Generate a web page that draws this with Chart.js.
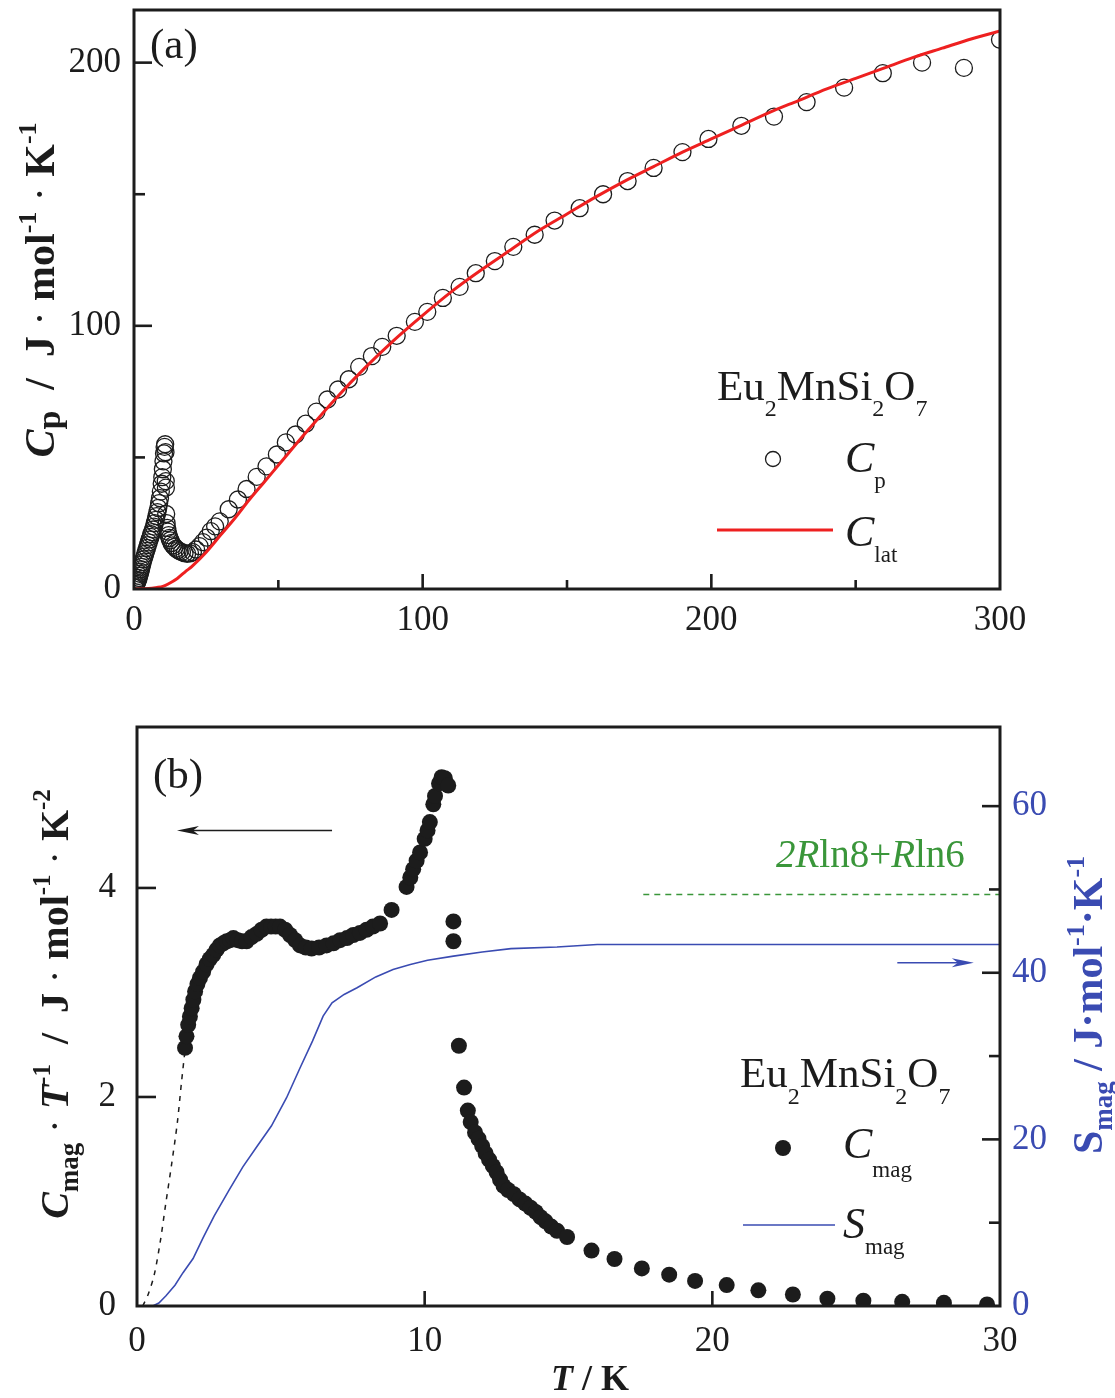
<!DOCTYPE html>
<html>
<head>
<meta charset="utf-8">
<script src="https://cdn.jsdelivr.net/npm/chart.js@4.4.1/dist/chart.umd.min.js"></script>
<style>
html, body { margin: 0; padding: 0; background: #fff; }
#wrap { position: relative; width: 1115px; height: 1398px; }
canvas { position: absolute; left: 0; }
</style>
</head>
<body>
<div id="wrap">
  <canvas id="chartA" width="1115" height="660" style="top:0px"></canvas>
  <canvas id="chartB" width="1115" height="738" style="top:660px"></canvas>
</div>
<script>
const SERIF = '"Liberation Serif", "Times New Roman", serif';
const INK = '#1c1c1c';
const RED = '#ee2020';
const BLUE = '#3a4bb2';
const GREEN = '#3a963a';

// ---- panel (a): Cp and lattice fit vs T ----
const cpT = [0.2, 0.4, 0.6, 0.8, 1.0, 1.2, 1.4, 1.6, 1.8, 2.0, 2.2, 2.4, 2.6, 2.8, 3.0, 3.3, 3.6, 3.9, 4.2, 4.5,
  4.8, 5.1, 5.4, 5.7, 6.0, 6.3, 6.6, 6.9, 7.2, 7.5, 7.8, 8.1, 8.4, 8.7, 9.0, 9.3, 9.6, 9.8, 10.0, 10.2,
  10.4, 10.6, 10.8, 10.9, 11.0, 11.05, 11.15, 11.3, 11.5, 11.7, 12.0, 12.3, 12.6, 13.0, 13.5, 14.0, 14.6, 15.2, 15.8, 16.6,
  17.5, 18.4, 19.4, 20.4, 21.5, 22.7, 23.9, 25.2, 26.6, 28.1, 29.7, 32.8, 36, 39, 42.5, 45.9, 49.5, 52.6, 56, 59.5,
  63.2, 67, 70.7, 74.4, 78, 82.4, 86, 91, 97.3, 101.6, 107, 112.8, 118.4, 125, 131.4, 138.8, 145.7, 154.4, 162.5, 171,
  180, 190, 199, 210.4, 221.7, 233, 246, 259.4, 273, 287.5, 300];
const cpVal = [0.5, 1, 1.5, 2, 2.5, 3, 3.5, 4.2, 5, 5.8, 6.6, 7.5, 8.4, 9.3, 10.2, 11.3, 12.3, 13.4, 14.5, 15.6,
  16.7, 17.7, 18.8, 19.8, 20.8, 21.6, 22.6, 23.7, 25, 26.3, 27.7, 29.2, 30.8, 32.6, 34.5, 37, 40, 42.5, 45.5, 48.5,
  51.5, 54, 55, 52, 41, 38.5, 28.5, 25, 23.2, 21.8, 20.5, 19.4, 18.5, 17.5, 16.6, 16, 15.3, 14.8, 14.4, 14,
  13.6, 13.4, 13.5, 14, 15, 16.3, 17.8, 19.5, 22, 23.8, 25.7, 30.3, 34, 38, 42.6, 46.6, 51.1, 55.7, 58.7, 62.8,
  67.4, 72, 75.8, 79.7, 84.4, 88.5, 92, 96.2, 101.5, 105.3, 110.6, 114.8, 120, 124.6, 130, 134.6, 140, 144.7, 150, 155,
  160, 166, 171, 176, 179.5, 185, 190.5, 196, 200, 198, 208.7];
const latT = [0, 5, 8, 10, 12, 15, 18, 20, 25, 30, 35, 40, 45, 50, 60, 70, 80, 90, 100, 110,
  120, 130, 140, 150, 160, 170, 180, 190, 200, 210, 220, 230, 240, 250, 260, 270, 280, 290, 300];
const latVal = [0, 0.2, 0.6, 1, 2, 4, 6.8, 8.5, 14, 20.5, 27, 34, 40.5, 47, 60, 72.5, 84, 94.5, 104, 113,
  121, 128.5, 136, 142.5, 149, 155, 160.5, 166, 171, 176, 181, 185.5, 190, 194, 198, 202, 205.5, 209, 212];
const aTicksX = [0, 100, 200, 300];
const aMinorX = [50, 150, 250];
const aTicksY = [0, 100, 200];
const aMinorY = [50, 150];

// ---- panel (b): Cmag/T (left) and Smag (right) vs T ----
const cmagT = [1.67, 1.72, 1.78, 1.84, 1.9, 1.96, 2.02, 2.1, 2.19, 2.3, 2.42, 2.53, 2.65, 2.77, 2.88, 3.0, 3.12, 3.24, 3.35, 3.5,
  3.65, 3.81, 3.98, 4.16, 4.33, 4.5, 4.66, 4.82, 4.97, 5.15, 5.32, 5.5, 5.67, 5.87, 6.07, 6.33, 6.59, 6.83, 7.06, 7.3,
  7.52, 7.75, 7.98, 8.2, 8.45, 8.85, 9.37, 9.5, 9.6, 9.72, 9.84, 10.0, 10.1, 10.18, 10.3, 10.36, 10.5, 10.59, 10.7, 10.82,
  11.0, 11.0, 11.19, 11.37, 11.5, 11.6, 11.75, 11.87, 12.0, 12.12, 12.24, 12.37, 12.5, 12.62, 12.74, 12.9, 13.1, 13.3, 13.5, 13.68,
  13.86, 14.03, 14.2, 14.4, 14.6, 14.95, 15.8, 16.6, 17.55, 18.5, 19.4, 20.5, 21.6, 22.8, 24, 25.25, 26.6, 28.05, 29.55];
const cmagVal = [2.47, 2.58, 2.69, 2.77, 2.85, 2.93, 3.01, 3.08, 3.14, 3.2, 3.27, 3.32, 3.36, 3.41, 3.45, 3.47, 3.49, 3.5, 3.52, 3.5,
  3.49, 3.49, 3.53, 3.56, 3.6, 3.63, 3.63, 3.63, 3.63, 3.6, 3.55, 3.5, 3.45, 3.43, 3.42, 3.43, 3.45, 3.47, 3.5, 3.52,
  3.55, 3.57, 3.6, 3.63, 3.66, 3.79, 4.01, 4.1, 4.18, 4.26, 4.34, 4.47, 4.55, 4.63, 4.8, 4.88, 5.0, 5.06, 5.05, 4.98,
  3.68, 3.49, 2.49, 2.09, 1.87, 1.76, 1.66, 1.6, 1.53, 1.46, 1.4, 1.34, 1.28, 1.21, 1.15, 1.11, 1.07, 1.02, 0.98, 0.94,
  0.9, 0.85, 0.81, 0.76, 0.72, 0.66, 0.53, 0.45, 0.36, 0.3, 0.24, 0.2, 0.15, 0.11, 0.07, 0.05, 0.04, 0.03, 0.015];
const extrapT = [0.2, 0.4, 0.6, 0.8, 1.0, 1.2, 1.4, 1.55, 1.67];
const extrapVal = [0, 0.12, 0.3, 0.6, 0.98, 1.35, 1.75, 2.15, 2.45];
const smagT = [0.55, 0.76, 1.0, 1.32, 1.6, 1.95, 2.3, 2.68, 3.2, 3.68, 4.2, 4.67, 5.2, 5.67, 6.1, 6.47, 6.78, 7.2, 7.65, 8.3,
  8.9, 9.5, 10.1, 11, 12, 13, 14.6, 16, 20, 30];
const smagVal = [0, 0.36, 1.2, 2.5, 4, 5.7, 8.2, 10.8, 13.9, 16.7, 19.3, 21.6, 25, 28.6, 31.8, 34.8, 36.4, 37.4, 38.2, 39.5,
  40.4, 41, 41.5, 42, 42.5, 42.9, 43.1, 43.4, 43.4, 43.4];
const limitT = [17.6, 30];
const limitVal = [49.4, 49.4];   // 2R ln8 + R ln6
const bTicksX = [0, 10, 20, 30];
const bTicksY = [0, 2, 4];
const bTicksS = [0, 20, 40, 60];
const bMinorS = [10, 30, 50];

function pts(xs, ys) {
  return xs.map((x, i) => ({ x: x, y: ys[i] }));
}

function font(size, style) {
  return (style || '') + ' ' + size + 'px ' + SERIF;
}

// fixed axis box so the plot area lands where the original has it
function fixSize(size) {
  return function (scale) {
    if (scale.isHorizontal()) scale.height = size;
    else scale.width = size;
    scale.paddingTop = 0;
    scale.paddingBottom = 0;
    scale.paddingLeft = 0;
    scale.paddingRight = 0;
  };
}

function setTicks(values) {
  return function (scale) {
    scale.ticks = values.map(v => ({ value: v }));
  };
}

function axisOpts(min, max, ticks, size, pad, color) {
  return {
    type: 'linear', min: min, max: max,
    afterBuildTicks: setTicks(ticks),
    afterFit: fixSize(size),
    grid: { display: false, drawTicks: false },
    border: { display: false },
    ticks: { font: { family: SERIF, size: 35 }, color: color || INK, padding: pad, maxRotation: 0 }
  };
}

// text made of pieces: [text, font, dy]
function rich(ctx, x, y, parts, align) {
  let w = 0;
  parts.forEach(p => { ctx.font = p[1]; w += ctx.measureText(p[0]).width; });
  let cx = align === 'center' ? x - w / 2 : x;
  parts.forEach(p => {
    ctx.font = p[1];
    ctx.fillText(p[0], cx, y + (p[2] || 0));
    cx += ctx.measureText(p[0]).width;
  });
}

function richUp(ctx, x, y, parts) {
  ctx.save();
  ctx.translate(x, y);
  ctx.rotate(-Math.PI / 2);
  rich(ctx, 0, 0, parts, 'center');
  ctx.restore();
}

function arrow(ctx, x1, x2, y, color) {
  const dir = x2 > x1 ? 1 : -1;
  ctx.strokeStyle = color;
  ctx.fillStyle = color;
  ctx.lineWidth = 1.6;
  ctx.beginPath();
  ctx.moveTo(x1, y);
  ctx.lineTo(x2 - dir * 10, y);
  ctx.stroke();
  ctx.beginPath();
  ctx.moveTo(x2, y);
  ctx.lineTo(x2 - dir * 22, y - 4.5);
  ctx.lineTo(x2 - dir * 16, y);
  ctx.lineTo(x2 - dir * 22, y + 4.5);
  ctx.closePath();
  ctx.fill();
}

// box + inward tick marks + annotations
function framePlugin(name, tickSets, extra) {
  return {
    id: 'frame' + name,
    afterDatasetsDraw(chart) {
      const ctx = chart.ctx;
      const a = chart.chartArea;
      ctx.save();
      ctx.strokeStyle = INK;
      ctx.lineWidth = 3;
      ctx.strokeRect(a.left, a.top, a.right - a.left, a.bottom - a.top);
      ctx.lineWidth = 2.6;
      tickSets.forEach(t => {
        const sc = chart.scales[t.scale];
        t.values.forEach(v => {
          const p = sc.getPixelForValue(v);
          ctx.beginPath();
          if (t.side === 'bottom') { ctx.moveTo(p, a.bottom); ctx.lineTo(p, a.bottom - t.len); }
          else if (t.side === 'left') { ctx.moveTo(a.left, p); ctx.lineTo(a.left + t.len, p); }
          else { ctx.moveTo(a.right, p); ctx.lineTo(a.right - t.len, p); }
          ctx.stroke();
        });
      });
      ctx.textBaseline = 'alphabetic';
      ctx.textAlign = 'left';
      extra(chart, ctx);
      ctx.restore();
    }
  };
}

function drawA(chart, ctx) {
  ctx.fillStyle = INK;
  rich(ctx, 150, 58, [['(a)', font(43)]]);
  // y title
  const B = font(42, 'bold'), BI = font(42, 'bold italic'), SUP = font(26, 'bold');
  richUp(ctx, 54, 290, [['C', BI], ['p', font(34, 'bold'), 6], ['  /  ', B], ['J', B], [' \u00b7 ', font(42)],
    ['mol', B], ['-1', SUP, -18], [' \u00b7 ', font(42)], ['K', B], ['-1', SUP, -18]]);
  // legend
  const R = font(43), S = font(24);
  rich(ctx, 717, 400, [['Eu', R], ['2', S, 16], ['MnSi', R], ['2', S, 16], ['O', R], ['7', S, 16]]);
  ctx.strokeStyle = INK;
  ctx.lineWidth = 1.3;
  ctx.beginPath();
  ctx.arc(773, 459, 7.5, 0, Math.PI * 2);
  ctx.stroke();
  rich(ctx, 845, 472, [['C', font(44, 'italic')], ['p', font(23), 16]]);
  ctx.strokeStyle = RED;
  ctx.lineWidth = 3;
  ctx.beginPath();
  ctx.moveTo(717, 530);
  ctx.lineTo(833, 530);
  ctx.stroke();
  rich(ctx, 845, 546, [['C', font(44, 'italic')], ['lat', font(23), 16]]);
}

function drawB(chart, ctx) {
  const x = chart.scales.x, y = chart.scales.y, yS = chart.scales.yS;
  ctx.fillStyle = INK;
  rich(ctx, 153, 128, [['(b)', font(43)]]);
  // arrows pointing at the axis each curve belongs to
  arrow(ctx, x.getPixelForValue(6.78), x.getPixelForValue(1.39), y.getPixelForValue(4.55), INK);
  arrow(ctx, x.getPixelForValue(26.43), x.getPixelForValue(29.09), yS.getPixelForValue(41.2), BLUE);
  // entropy limit label
  ctx.fillStyle = GREEN;
  rich(ctx, 776, 207, [['2', font(39, 'italic')], ['R', font(39, 'italic')], ['ln8+', font(39)],
    ['R', font(39, 'italic')], ['ln6', font(39)]]);
  // left title
  ctx.fillStyle = INK;
  const B = font(40, 'bold'), BI = font(40, 'bold italic'), SUP = font(25, 'bold');
  richUp(ctx, 68, 344, [['C', BI], ['mag', font(27, 'bold'), 10], [' \u00b7 ', font(40)], ['T', BI], ['-1', SUP, -18],
    ['  /  ', B], ['J', B], [' \u00b7 ', font(40)], ['mol', B], ['-1', SUP, -18], [' \u00b7 ', font(40)], ['K', B], ['-2', SUP, -18]]);
  // right title
  ctx.fillStyle = BLUE;
  const SUPB = font(26, 'bold');
  richUp(ctx, 1102, 345, [['S', font(42, 'bold')], ['mag', font(27, 'bold'), 10], [' / ', font(42, 'bold')], ['J', font(42, 'bold')],
    ['\u00b7', font(42, 'bold')], ['mol', font(42, 'bold')], ['-1', SUPB, -18], ['\u00b7', font(42, 'bold')], ['K', font(42, 'bold')], ['-1', SUPB, -18]]);
  // x title
  ctx.fillStyle = INK;
  rich(ctx, 590, 730, [['T', font(36, 'bold italic')], [' / ', font(36, 'bold')], ['K', font(36, 'bold')]], 'center');
  // legend
  const R = font(43), S = font(24);
  rich(ctx, 740, 427, [['Eu', R], ['2', S, 17], ['MnSi', R], ['2', S, 17], ['O', R], ['7', S, 17]]);
  ctx.fillStyle = INK;
  ctx.beginPath();
  ctx.arc(783, 488, 8, 0, Math.PI * 2);
  ctx.fill();
  rich(ctx, 843, 498, [['C', font(44, 'italic')], ['mag', font(23), 19]]);
  ctx.strokeStyle = BLUE;
  ctx.lineWidth = 1.6;
  ctx.beginPath();
  ctx.moveTo(743, 565);
  ctx.lineTo(835, 565);
  ctx.stroke();
  rich(ctx, 843, 578, [['S', font(44, 'italic')], ['mag', font(23), 16]]);
}

new Chart(document.getElementById('chartA'), {
  type: 'scatter',
  data: {
    datasets: [
      { label: 'C_lat', data: pts(latT, latVal), showLine: true, borderColor: RED, borderWidth: 3,
        pointRadius: 0, tension: 0.3 },
      { label: 'C_p', data: pts(cpT, cpVal), pointRadius: 8.5, borderWidth: 1.3, borderColor: INK,
        backgroundColor: 'rgba(0,0,0,0)' }
    ]
  },
  options: {
    responsive: false, animation: false, devicePixelRatio: 1,
    layout: { padding: { left: 0, right: 115, top: 10, bottom: 0 } },
    plugins: { legend: { display: false }, tooltip: { enabled: false } },
    scales: {
      x: axisOpts(0, 300, aTicksX, 71, 11),
      y: axisOpts(0, 220, aTicksY, 134, 13)
    }
  },
  plugins: [framePlugin('A', [
    { scale: 'x', side: 'bottom', values: [100, 200], len: 15 },
    { scale: 'x', side: 'bottom', values: aMinorX, len: 9 },
    { scale: 'y', side: 'left', values: [100, 200], len: 18 },
    { scale: 'y', side: 'left', values: aMinorY, len: 11 }
  ], drawA)]
});

new Chart(document.getElementById('chartB'), {
  type: 'scatter',
  data: {
    datasets: [
      { label: 'C_mag', data: pts(cmagT, cmagVal), yAxisID: 'y', pointRadius: 8, borderWidth: 0,
        backgroundColor: INK },
      { label: 'extrapolation', data: pts(extrapT, extrapVal), yAxisID: 'y', showLine: true, borderColor: INK,
        borderWidth: 1.5, borderDash: [5, 6], pointRadius: 0, tension: 0.3 },
      { label: 'S_mag', data: pts(smagT, smagVal), yAxisID: 'yS', showLine: true, borderColor: BLUE,
        borderWidth: 1.6, pointRadius: 0 },
      { label: '2Rln8+Rln6', data: pts(limitT, limitVal), yAxisID: 'yS', showLine: true, borderColor: GREEN,
        borderWidth: 1.6, borderDash: [6, 5], pointRadius: 0 }
    ]
  },
  options: {
    responsive: false, animation: false, devicePixelRatio: 1,
    layout: { padding: { left: 0, right: 0, top: 67, bottom: 0 } },
    plugins: { legend: { display: false }, tooltip: { enabled: false } },
    scales: {
      x: axisOpts(0, 30, bTicksX, 92, 15),
      y: axisOpts(0, 5.54, bTicksY, 137, 21),
      yS: Object.assign(axisOpts(0, 69.5, bTicksS, 115, 12, BLUE), { position: 'right' })
    }
  },
  plugins: [framePlugin('B', [
    { scale: 'x', side: 'bottom', values: [10, 20], len: 15 },
    { scale: 'y', side: 'left', values: [2, 4], len: 19 },
    { scale: 'yS', side: 'right', values: [20, 40, 60], len: 18 },
    { scale: 'yS', side: 'right', values: bMinorS, len: 11 }
  ], drawB)]
});
</script>
</body>
</html>
